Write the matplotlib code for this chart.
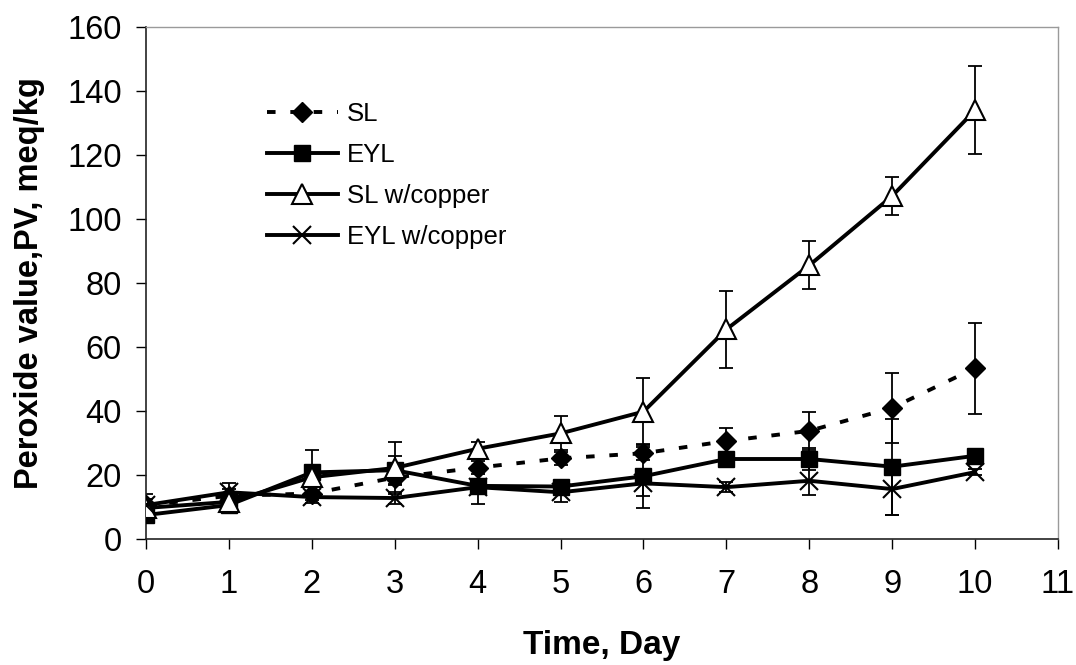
import numpy as np
import matplotlib
matplotlib.use("Agg")
import matplotlib.pyplot as plt

plt.rcParams["font.family"] = ["Liberation Sans", "DejaVu Sans"]

# storage time, days
days = [0, 1, 2, 3, 4, 5, 6, 7, 8, 9, 10]

# peroxide value (meq/kg), mean and standard deviation per series
sl = [10.5, 13.5, 14.2, 19.2, 22.3, 25.2, 26.8, 30.6, 33.8, 41.0, 53.4]
sl_err = [2.0, 2.0, 2.0, 2.0, 2.0, 2.0, 2.0, 4.0, 6.0, 11.0, 14.2]

eyl = [7.5, 10.6, 20.8, 21.5, 16.6, 16.4, 19.6, 25.0, 25.0, 22.6, 26.0]
eyl_err = [2.0, 2.5, 7.0, 4.5, 5.8, 2.0, 10.0, 2.0, 3.5, 15.0, 1.5]

sl_cu = [9.7, 11.6, 19.3, 22.2, 28.2, 33.0, 39.8, 65.5, 85.5, 107.2, 134.0]
sl_cu_err = [2.0, 2.0, 2.0, 8.0, 2.0, 5.3, 10.5, 12.0, 7.5, 6.0, 13.8]

eyl_cu = [10.6, 14.6, 13.1, 12.8, 16.2, 14.6, 17.4, 16.2, 18.2, 15.6, 20.9]
eyl_cu_err = [3.5, 3.0, 2.0, 2.0, 2.0, 3.0, 4.0, 1.5, 4.5, 8.0, 1.0]

fig = plt.figure(figsize=(10.76, 6.65), dpi=100)
ax = fig.add_axes([146 / 1076, 1 - 539 / 665, (1058 - 146) / 1076, (539 - 27) / 665])

err_kw = dict(fmt="none", ecolor="black", elinewidth=1.3, capsize=5, capthick=1.3, zorder=2)
for y, e in [(sl, sl_err), (eyl, eyl_err), (sl_cu, sl_cu_err), (eyl_cu, eyl_cu_err)]:
    ax.errorbar(days, y, yerr=e, **err_kw)

lw = 2.8
ax.plot(days, sl, color="black", lw=lw, linestyle=(0, (2.2, 3.8)),
        marker="D", ms=10, mfc="black", mec="black", label="SL", zorder=3)
ax.plot(days, eyl, color="black", lw=lw, marker="s", ms=11.5,
        mfc="black", mec="black", label="EYL", zorder=3)
ax.plot(days, sl_cu, color="black", lw=lw, marker="^", ms=14,
        mfc="white", mec="black", mew=1.5, label="SL w/copper", zorder=4)
ax.plot(days, eyl_cu, color="black", lw=lw, marker="x", ms=13,
        mec="black", mew=1.5, label="EYL w/copper", zorder=4)

ax.set_xlim(0, 11)
ax.set_ylim(0, 160)
ax.set_xticks(range(0, 12))
ax.set_yticks(range(0, 161, 20))
ax.tick_params(axis="both", labelsize=23.5, length=7.5, width=1.0, direction="out")
ax.tick_params(axis="y", pad=10)
ax.tick_params(axis="x", pad=14)

for side in ("left", "bottom"):
    ax.spines[side].set_color("#222222")
    ax.spines[side].set_linewidth(1.2)
for side in ("top", "right"):
    ax.spines[side].set_color("#9a9a9a")
    ax.spines[side].set_linewidth(1.0)

ax.set_xlabel("Time, Day", fontsize=24, fontweight="bold", labelpad=22)
ax.set_ylabel("Peroxide value,PV, meq/kg", fontsize=23.5, fontweight="bold", labelpad=16)

ax.legend(loc="upper left", bbox_to_anchor=(267 / 1076, 1 - 102 / 665),
          bbox_transform=fig.transFigure, frameon=False, fontsize=18.5,
          handlelength=2.76, handletextpad=0.35, labelspacing=0.66, borderpad=0,
          borderaxespad=0)

fig.savefig("out.png", dpi=100)
